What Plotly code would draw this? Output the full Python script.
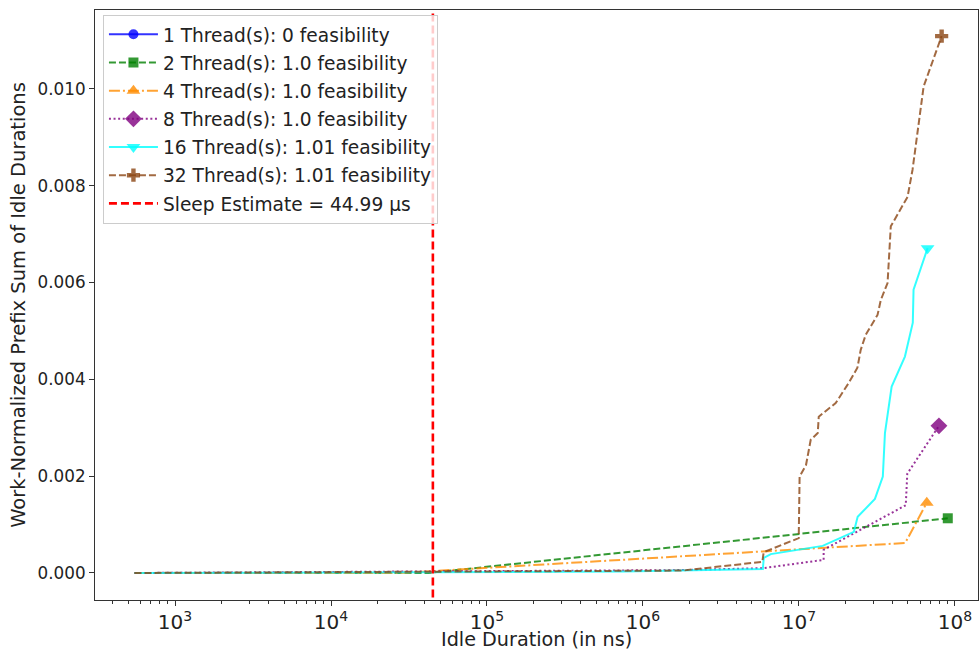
import plotly.graph_objects as go

# Idle-duration prefix sums (x in ns, y work-normalized), one list pair per thread count
# The single-thread run recorded no idle samples.
t1_x = [None]
t1_y = [None]

t2_x = [550, 4.2e4, 9.0e7]
t2_y = [0.0, 0.0, 0.00113]

t4_x = [550, 2.8e4, 4.8e7, 6.6e7]
t4_y = [0.0, 0.0, 0.00062, 0.00145]

t8_x = [550, 1.8e6, 5.9e6, 1.44e7, 1.44e7, 4.84e7, 4.95e7, 7.9e7]
t8_y = [0.0, 0.00006, 0.0001, 0.00027, 0.00048, 0.0014, 0.00205, 0.00304]

t16_x = [550, 7.5e5, 5.87e6, 5.95e6, 6.6e6, 1.42e7, 2.25e7, 2.38e7, 3.07e7, 3.45e7,
         3.56e7, 3.93e7, 4.78e7, 5.37e7, 5.43e7, 6.68e7]
t16_y = [0.0, 0.00003, 0.00008, 0.00031, 0.00039, 0.00056, 0.00085, 0.00116, 0.00153, 0.00199,
         0.00289, 0.00385, 0.00447, 0.00517, 0.00585, 0.00671]

t32_x = [550, 1.8e6, 5.83e6, 5.94e6, 9.97e6, 1.0e7, 1.01e7, 1.11e7, 1.19e7, 1.32e7, 1.34e7,
         1.72e7, 2.09e7, 2.37e7, 2.49e7, 2.68e7, 3.19e7, 3.35e7, 3.70e7, 3.88e7, 4.97e7,
         5.35e7, 6.05e7, 6.30e7, 8.22e7]
t32_y = [0.0, 0.00005, 0.00023, 0.00043, 0.00072, 0.00089, 0.00199, 0.00223, 0.00275, 0.00289,
         0.00323, 0.00351, 0.00393, 0.00424, 0.00461, 0.00492, 0.00533, 0.00564, 0.00599,
         0.00716, 0.00777, 0.00833, 0.00957, 0.01005, 0.01109]

labels = [
    "1 Thread(s): 0 feasibility",
    "2 Thread(s): 1.0 feasibility",
    "4 Thread(s): 1.0 feasibility",
    "8 Thread(s): 1.0 feasibility",
    "16 Thread(s): 1.01 feasibility",
    "32 Thread(s): 1.01 feasibility",
]

sleep_estimate_ns = 44990
sleep_label = "Sleep Estimate = 44.99 µs"
x_title = "Idle Duration (in ns)"
y_title = "Work-Normalized Prefix Sum of Idle Durations"

DASHED = "7px,3px"
DASHDOT = "11px,3px,2px,3px"
DOTTED = "2px,2.6px"

series = [
    (t1_x, t1_y, "rgba(0,0,255,0.8)", "solid", "circle", 10),
    (t2_x, t2_y, "rgba(0,128,0,0.8)", DASHED, "square", 10),
    (t4_x, t4_y, "rgba(255,140,0,0.8)", DASHDOT, "triangle-up", 12),
    (t8_x, t8_y, "rgba(128,0,128,0.8)", DOTTED, "diamond", 13),
    (t16_x, t16_y, "rgba(0,255,255,0.8)", "solid", "triangle-down", 12),
    (t32_x, t32_y, "rgba(139,69,19,0.8)", DASHED, "cross", 11),
]

fig = go.Figure()
for i, ((xs, ys, color, dash, symbol, msize), name) in enumerate(zip(series, labels)):
    grp = f"g{i}"
    # the curve itself
    fig.add_trace(go.Scatter(
        x=xs, y=ys, mode="lines", line=dict(color=color, width=2, dash=dash),
        legendgroup=grp, showlegend=False, hoverinfo="skip",
    ))
    # marker on the final point, also provides the legend entry
    fig.add_trace(go.Scatter(
        x=xs[-1:], y=ys[-1:], mode="lines+markers", name=name,
        line=dict(color=color, width=2, dash=dash),
        marker=dict(symbol=symbol, size=msize, color=color, line=dict(width=0)),
        legendgroup=grp,
    ))

# sleep estimate reference line
fig.add_trace(go.Scatter(
    x=[sleep_estimate_ns, sleep_estimate_ns], y=[-0.001, 0.013], mode="lines",
    name=sleep_label, line=dict(color="red", width=2.6, dash="8px,4px"),
    legendgroup="sleep",
))

axis_common = dict(
    showgrid=False, zeroline=False, showline=True, linecolor="#333333", linewidth=1,
    mirror=True, ticks="outside", ticklen=5, tickcolor="#333333", automargin=False,
)

fig.update_layout(
    width=979, height=652,
    margin=dict(l=95, r=1, t=10, b=52),
    paper_bgcolor="white", plot_bgcolor="white",
    font=dict(family="DejaVu Sans", color="#222222"),
    xaxis=dict(
        type="log", range=[2.487, 8.148], dtick=1, exponentformat="power",
        ticklabelstandoff=0,
        tickfont=dict(family="DejaVu Sans", size=16, color="#222222"),
        minor=dict(ticks="outside", ticklen=3, tickcolor="#333333", showgrid=False),
        **axis_common,
    ),
    yaxis=dict(
        range=[-0.000558, 0.01163], dtick=0.002, tickformat=".3f",
        tickfont=dict(family="DejaVu Sans", size=16.8, color="#222222"),
        title=dict(text=y_title, font=dict(size=19.5), standoff=6),
        **axis_common,
    ),
    legend=dict(
        x=0.009, y=0.992, xanchor="left", yanchor="top",
        bgcolor="rgba(255,255,255,0.8)", bordercolor="#cccccc", borderwidth=1,
        font=dict(family="DejaVu Sans", size=18.6, color="#222222"),
        itemwidth=49, tracegroupgap=1, traceorder="grouped",
    ),
    showlegend=True,
)

# x-axis title placed just below the tick labels
fig.add_annotation(
    text=x_title, xref="paper", yref="paper", x=0.5, y=-0.067,
    xanchor="center", yanchor="middle", showarrow=False,
    font=dict(family="DejaVu Sans", size=19.2, color="#222222"),
)

fig.write_html("out.html")
